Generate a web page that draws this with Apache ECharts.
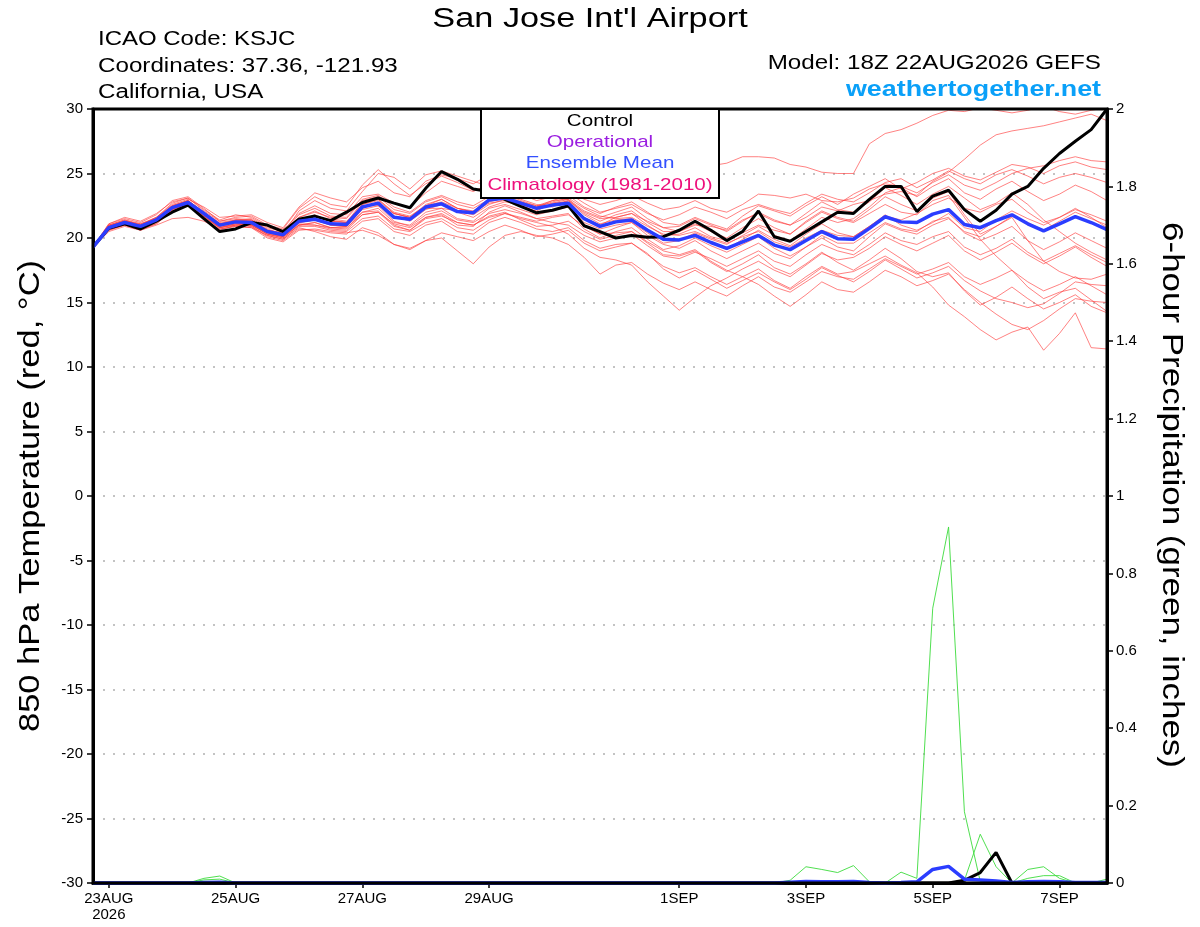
<!DOCTYPE html>
<html><head><meta charset="utf-8">
<script src="https://cdn.jsdelivr.net/npm/echarts@6.0.0/dist/echarts.min.js"></script>
<style>html,body{margin:0;padding:0;background:#fff}#c{width:1200px;height:927px}</style>
</head><body><div id="c"></div>
<script>
// ---- time categories (6-hourly, 18Z 22AUG2026 .. 18Z 7SEP2026) ----
const MON = ['JAN','FEB','MAR','APR','MAY','JUN','JUL','AUG','SEP','OCT','NOV','DEC'];
const startUTC = Date.UTC(2026, 7, 22, 18);
const times = Array.from({length: 65}, (_, i) => {
  const d = new Date(startUTC + i * 6 * 3600e3);
  return d.getUTCDate() + MON[d.getUTCMonth()] + ' ' + String(d.getUTCHours()).padStart(2, '0') + 'Z';
});
const tickTimes  = ['23AUG 00Z','25AUG 00Z','27AUG 00Z','29AUG 00Z','1SEP 00Z','3SEP 00Z','5SEP 00Z','7SEP 00Z'];
const tickLabels = ['23AUG\n2026','25AUG','27AUG','29AUG','1SEP','3SEP','5SEP','7SEP'];

// ---- 850 hPa temperature (°C) ----
const control = [19.3,20.75,21.1,20.7,21.3,22.0,22.55,21.5,20.5,20.7,21.2,21.0,20.5,21.45,21.7,21.35,22.0,
  22.75,23.1,22.7,22.35,23.85,25.15,24.55,23.8,23.6,23.0,22.45,21.95,22.15,22.5,20.95,20.5,
  20.0,20.2,20.05,20.1,20.6,21.3,20.6,19.8,20.5,22.1,20.1,19.75,20.5,21.25,22.0,21.9,
  23.0,24.0,24.0,22.05,23.25,23.7,22.2,21.3,22.15,23.4,24.0,25.4,26.55,27.5,28.4,30.0];
const ensMean = [19.3,20.8,21.2,20.9,21.4,22.35,22.75,21.9,21.0,21.25,21.2,20.5,20.25,21.3,21.45,21.1,21.05,
  22.4,22.7,21.6,21.45,22.4,22.65,22.05,21.95,22.95,23.1,22.7,22.3,22.55,22.7,21.5,20.9,
  21.25,21.4,20.6,19.9,19.85,20.2,19.65,19.2,19.7,20.2,19.45,19.1,19.8,20.5,19.95,19.9,
  20.75,21.65,21.25,21.2,21.85,22.2,21.05,20.8,21.35,21.8,21.1,20.55,21.1,21.65,21.2,20.65];

const m01 = [19.3,21.0,21.4,21.1,21.6,22.6,23.0,22.4,21.6,21.7,21.8,21.2,20.8,22.4,23.5,23.1,22.8,
  23.9,24.4,23.5,23.2,24.4,24.9,24.6,24.2,24.9,25.3,25.6,25.4,25.7,25.9,25.6,25.3,
  25.5,25.8,25.6,25.3,25.2,25.5,25.6,25.8,26.3,26.3,26.2,25.7,25.5,25.1,25.0,25.0,
  27.3,28.1,28.4,28.9,29.5,29.9,29.8,30.1,29.9,29.7,29.9,30.2,29.8,29.6,29.9,30.1];
const m02 = [19.3,20.9,21.3,21.0,21.5,22.5,22.9,22.0,21.1,21.4,21.5,20.8,20.5,21.6,22.0,21.6,21.5,
  22.9,23.2,22.2,21.9,22.8,23.2,22.6,22.3,23.0,23.3,23.0,22.6,22.4,22.9,22.0,21.5,
  21.6,21.9,21.3,20.8,20.5,21.0,20.9,20.6,21.4,21.9,21.3,21.0,21.6,22.4,22.1,22.6,
  22.9,23.4,23.6,23.3,24.4,25.1,26.1,27.2,28.0,28.3,28.5,28.7,29.0,29.3,29.6,29.1];
const m03 = [19.3,21.1,21.5,21.2,21.8,22.9,23.2,22.3,21.3,21.5,21.4,20.7,20.3,22.1,22.9,22.3,22.1,
  23.6,25.0,24.7,23.8,24.9,25.2,24.8,24.4,24.0,23.6,23.9,23.5,23.3,23.8,23.0,22.6,
  22.9,23.3,22.7,22.2,22.4,22.9,22.3,22.0,22.6,23.4,23.3,23.1,23.4,22.9,22.8,23.1,
  23.8,24.2,24.0,23.5,24.3,24.9,24.1,23.7,24.3,25.0,25.4,25.6,26.0,26.3,26.0,25.9];
const m04 = [19.3,20.9,21.3,21.0,21.6,22.7,23.1,22.2,21.4,21.8,21.6,20.9,20.6,21.9,22.5,21.9,21.8,
  23.2,23.4,22.7,22.4,23.5,24.4,24.0,23.6,24.2,24.0,23.4,22.9,23.2,23.5,22.7,22.0,
  22.3,22.6,21.9,21.4,21.8,22.4,22.0,21.5,22.2,22.6,22.2,21.9,22.7,23.4,23.0,22.8,
  23.5,24.3,24.6,23.9,24.5,25.2,24.6,24.2,24.9,25.3,24.8,24.2,24.7,25.0,24.7,24.3];
const m05 = [19.3,20.7,21.1,20.8,21.3,22.4,22.8,21.8,20.9,21.3,21.4,20.6,20.4,21.5,21.7,21.4,21.2,
  22.6,22.9,21.9,21.6,22.5,23.0,22.3,22.0,22.7,22.9,22.4,22.1,22.7,23.0,22.1,21.6,
  22.0,22.4,21.5,20.8,20.9,21.5,21.0,20.5,21.3,22.0,21.4,21.0,21.9,22.8,22.2,22.0,
  22.8,23.9,23.3,22.6,23.4,24.0,23.1,22.2,22.7,23.5,22.6,21.4,20.5,19.6,18.9,18.3];
const m06 = [19.3,20.8,21.2,20.9,21.5,22.5,22.9,21.9,21.0,21.2,21.1,20.4,20.1,21.2,21.4,21.0,20.9,
  22.3,22.8,21.7,21.3,22.2,22.6,22.0,21.6,22.4,22.8,22.6,22.0,22.2,22.4,21.0,20.3,
  20.8,21.2,20.4,19.6,19.8,20.4,19.9,19.5,20.2,20.9,20.2,19.8,20.7,21.6,21.2,21.5,
  22.4,23.5,23.9,23.2,24.0,24.6,23.5,23.0,23.8,24.4,23.6,22.9,23.4,24.1,23.6,22.9];
const m07 = [19.3,20.6,21.0,20.7,21.2,22.2,22.6,21.7,20.8,21.1,21.0,20.3,20.0,21.0,21.2,20.8,20.7,
  22.0,22.3,21.2,21.0,22.0,22.3,21.5,21.3,22.3,22.6,22.2,21.8,22.1,22.4,21.2,20.7,
  21.0,21.2,20.2,19.5,19.2,19.8,19.0,18.4,19.0,19.6,18.8,18.4,19.3,20.2,19.6,19.6,
  20.4,21.2,20.7,20.5,21.3,21.6,20.4,19.8,20.3,20.9,19.8,19.1,19.7,20.4,19.8,19.2];
const m08 = [19.3,20.9,21.2,20.9,21.4,22.3,22.6,21.9,21.1,21.3,21.3,20.6,20.3,21.6,22.1,21.5,21.3,
  22.5,22.5,21.9,21.6,22.3,22.3,22.1,21.8,22.6,23.0,22.8,22.4,22.8,23.1,22.3,21.7,
  21.5,21.6,20.9,20.3,20.2,20.5,20.0,19.6,20.1,20.5,19.7,19.3,20.0,20.6,20.2,20.1,
  20.9,21.8,21.0,20.6,21.2,21.9,20.8,20.5,21.4,22.1,21.5,21.0,21.6,22.2,21.8,21.3];
const m09 = [19.3,20.7,21.1,20.8,21.3,22.2,22.7,21.8,21.0,21.2,21.0,20.3,20.1,21.1,21.0,20.8,20.9,
  22.0,22.1,21.0,20.6,21.6,21.8,21.0,20.9,22.0,22.5,22.0,21.5,21.2,21.0,20.2,19.7,
  20.0,20.3,19.4,18.6,18.4,18.9,18.4,17.8,18.4,19.0,18.2,17.8,18.7,19.5,19.0,18.7,
  19.5,20.4,19.8,19.5,20.1,20.5,19.3,18.7,19.2,19.9,18.9,18.2,18.8,19.4,18.7,18.1];
const m10 = [19.3,20.8,21.1,20.8,21.3,22.3,22.8,21.9,20.9,21.1,20.9,20.2,19.9,20.9,20.9,20.6,20.5,
  21.5,21.7,20.7,20.5,21.2,21.5,20.8,20.6,21.4,21.9,21.5,21.2,20.9,20.3,19.2,18.5,
  18.3,17.9,16.6,15.5,14.4,15.4,16.3,16.9,17.6,18.2,17.5,17.0,17.9,18.8,18.3,18.5,
  19.2,20.1,19.5,19.0,19.6,20.2,19.0,18.3,18.9,19.6,18.7,18.0,18.6,19.3,18.5,17.8];
const m11 = [19.3,20.7,21.0,20.7,21.1,22.1,22.5,21.6,20.8,21.0,20.9,20.1,19.8,20.7,20.6,20.4,20.3,
  21.3,21.5,20.5,20.2,21.0,21.3,20.5,20.3,21.2,21.6,21.2,20.7,20.5,20.8,19.8,19.2,
  19.5,19.6,18.7,17.8,17.3,17.7,17.0,16.4,17.0,17.6,16.7,16.1,17.0,17.8,17.2,17.4,
  18.0,18.6,17.9,17.3,16.2,14.8,13.9,12.9,12.1,12.7,13.1,11.3,12.6,14.2,11.5,11.4];
const m12 = [19.3,20.9,21.3,21.0,21.4,22.4,22.7,21.8,20.8,21.0,21.0,20.3,20.0,21.0,21.2,20.8,20.8,
  21.8,22.0,21.1,20.8,21.6,21.9,21.2,21.0,21.7,22.0,21.4,20.9,21.0,21.3,20.5,19.9,
  20.2,20.5,19.6,18.7,18.6,19.0,18.1,17.4,18.0,18.7,17.7,17.2,18.0,18.9,18.1,17.5,
  18.3,19.2,18.4,17.4,17.0,17.3,15.9,14.8,15.4,16.2,15.3,14.5,15.0,15.6,14.7,14.2];
const m13 = [19.3,20.8,21.2,20.8,21.3,22.3,22.6,21.7,20.7,20.9,20.8,20.2,19.9,20.8,20.5,20.1,19.9,
  20.8,20.4,19.5,19.1,19.8,20.0,19.0,18.0,19.3,20.2,20.5,20.2,20.0,19.5,18.5,17.2,
  17.9,18.1,17.2,16.5,16.0,16.6,16.0,15.5,16.3,17.0,16.2,15.8,16.6,17.4,17.0,16.8,
  17.6,18.4,17.8,17.2,17.6,18.1,17.0,16.4,16.9,17.5,16.6,15.9,16.4,17.0,16.3,15.6];
const m14 = [19.3,20.6,21.0,20.6,21.1,22.1,22.5,21.5,20.6,21.0,21.0,20.4,20.1,21.0,21.0,20.7,20.6,
  21.8,22.0,20.9,20.6,21.5,21.7,21.2,21.0,21.6,21.9,21.6,21.3,21.6,21.8,20.9,20.3,
  20.4,20.5,19.7,19.0,18.7,19.1,18.2,17.5,17.0,16.4,15.5,14.7,15.6,16.6,16.0,15.8,
  16.6,17.5,17.0,16.3,16.7,17.2,16.0,15.0,14.1,13.3,12.9,13.6,14.5,15.3,15.1,15.0];
const m15 = [19.3,21.0,21.4,21.0,21.6,22.5,22.9,22.0,21.2,21.4,21.3,20.6,20.2,21.4,21.7,21.3,21.2,
  22.8,23.0,22.0,21.7,22.5,22.8,22.3,22.1,22.8,23.1,22.6,22.3,22.6,22.9,21.8,21.1,
  21.4,21.5,20.6,19.8,19.8,20.3,19.7,19.1,19.9,20.6,19.9,19.4,20.3,21.1,20.4,20.1,
  20.9,21.7,21.4,21.9,22.6,23.1,22.3,22.0,22.6,23.0,22.0,21.2,21.6,22.3,21.6,20.8];
const m16 = [19.3,21.0,21.3,21.1,21.5,22.4,22.8,21.8,20.9,21.4,21.4,20.6,20.4,21.8,22.3,21.7,21.6,
  23.0,23.3,22.4,22.0,22.9,23.3,22.8,22.5,23.2,23.4,22.9,22.5,22.7,22.8,21.6,21.0,
  21.6,21.9,21.0,20.2,20.3,20.8,20.1,19.8,20.4,21.0,20.6,20.3,21.2,22.0,21.5,21.2,
  21.9,22.6,22.0,21.8,22.9,23.3,21.6,19.9,18.6,17.5,16.2,15.3,15.8,16.1,15.2,14.3];
const m17 = [19.3,20.5,20.9,20.6,21.0,21.5,21.6,21.3,20.7,20.9,20.8,20.0,19.7,20.6,20.7,20.5,20.4,
  20.6,20.2,19.5,19.2,19.8,20.4,20.1,19.8,20.5,21.0,20.6,20.1,20.3,20.6,19.6,19.0,
  19.3,19.6,18.8,17.6,16.9,17.5,16.8,16.1,16.7,17.3,16.6,16.0,16.8,17.7,17.1,16.6,
  17.4,18.3,17.6,16.9,17.3,17.8,16.7,15.9,15.3,15.0,14.6,14.9,15.7,16.6,16.4,16.3];
const m18 = [19.3,21.1,21.6,21.3,21.9,22.8,23.1,22.1,21.3,21.6,21.7,21.0,20.7,22.3,23.2,22.6,22.4,
  24.1,25.3,24.2,23.3,24.2,24.8,24.3,23.7,23.8,23.2,22.6,22.4,22.9,23.3,22.4,21.9,
  22.4,22.8,22.0,21.2,21.0,21.6,21.1,20.7,21.7,22.5,22.1,21.7,22.5,23.2,22.6,23.4,
  24.0,24.6,23.8,24.3,25.0,25.4,24.8,24.5,25.1,25.7,25.5,25.0,25.6,25.9,25.5,25.3];
const m19 = [19.3,20.8,21.1,20.9,21.3,22.2,22.7,21.7,20.8,21.1,21.1,20.5,20.2,21.2,21.4,21.0,20.9,
  22.2,22.5,21.3,20.9,21.8,22.1,21.4,21.2,21.9,22.2,21.9,21.5,21.7,21.9,20.7,20.0,
  20.5,20.8,19.9,19.1,19.4,20.0,19.4,18.9,19.5,20.1,19.2,18.6,19.3,20.0,19.3,19.0,
  20.1,21.1,20.6,20.3,21.0,21.5,20.5,20.1,20.9,21.7,21.2,20.6,21.3,22.0,21.5,21.0];
const m20 = [19.3,20.9,21.3,21.0,21.5,22.4,22.9,22.0,21.1,21.3,21.2,20.5,20.2,21.3,21.8,21.3,21.2,
  22.6,23.0,21.9,21.6,22.6,23.0,22.3,22.0,22.9,23.3,22.8,22.5,22.9,23.0,21.9,21.3,
  21.8,22.1,21.2,20.5,20.5,21.1,20.5,20.0,20.8,21.5,20.8,20.3,21.3,22.1,21.6,21.3,
  22.2,23.2,22.6,22.1,23.1,23.6,21.8,20.3,20.9,21.6,19.8,18.2,17.4,16.9,16.8,17.2];
const members = [m01,m02,m03,m04,m05,m06,m07,m08,m09,m10,m11,m12,m13,m14,m15,m16,m17,m18,m19,m20];

// ---- 6-hour precipitation (inches) ----
const pControl = [0,0,0,0,0,0,0,0,0,0,0,0,0,
  0,0,0,0,0,0,0,0,0,0,0,0,0,
  0,0,0,0,0,0,0,0,0,0,0,0,0,
  0,0,0,0,0,0,0,0,0,0,0,0,0,
  0,0,0,0.007,0.027,0.079,0,0,0,0,0,0,0];
const pMean = [0,0,0,0,0,0,0,0.001,0.002,0,0,0,0,
  0,0,0,0,0,0,0,0,0,0,0,0,0,
  0,0,0,0,0,0,0,0,0,0,0,0,0,
  0,0,0,0,0,0.002,0.004,0.003,0.003,0.004,0.001,0,0.001,
  0.003,0.035,0.043,0.01,0.008,0.005,0.001,0.003,0.004,0.003,0.001,0.001,0.001];
const p01 = [0,0,0,0,0,0,0,0,0,0,0,0,0,
  0,0,0,0,0,0,0,0,0,0,0,0,0,
  0,0,0,0,0,0,0,0,0,0,0,0,0,
  0,0,0,0,0,0,0,0,0,0,0,0,0.028,
  0.012,0.71,0.92,0.184,0.004,0,0,0,0,0,0,0,0];
const p02 = [0,0,0,0,0,0,0,0.012,0.018,0,0,0,0,
  0,0,0,0,0,0,0,0,0,0,0,0,0,
  0,0,0,0,0,0,0,0,0,0,0,0,0,
  0,0,0,0,0,0.007,0.042,0.035,0.027,0.045,0.003,0,0,
  0,0,0,0,0,0,0,0,0,0,0,0,0];
const p03 = [0,0,0,0,0,0,0,0,0,0,0,0,0,
  0,0,0,0,0,0,0,0,0,0,0,0,0,
  0,0,0,0,0,0,0,0,0,0,0,0,0,
  0,0,0,0,0,0,0,0,0,0,0,0,0,
  0,0,0,0.007,0.126,0.042,0,0.035,0.042,0.012,0,0,0.01];
const p04 = [0,0,0,0,0,0,0,0.008,0.01,0,0,0,0,
  0,0,0,0,0,0,0,0,0,0,0,0,0,
  0,0,0,0,0,0,0,0,0,0,0,0,0,
  0,0,0,0,0,0,0,0,0,0,0,0,0,
  0,0,0,0,0,0,0,0.012,0.019,0.019,0,0,0];
const precipMembers = [p01,p02,p03,p04];

// ---- build chart ----
const FONT = '"Liberation Sans", Arial, Helvetica, sans-serif';
const series = [];
members.forEach((m, k) => series.push({
  name: 'member' + (k + 1), type: 'line', data: m, yAxisIndex: 0, symbol: 'none', silent: true, z: 2,
  lineStyle: {color: '#ff3b3b', width: 0.8, opacity: 0.8}
}));
precipMembers.forEach((p, k) => series.push({
  name: 'precip' + (k + 1), type: 'line', data: p, yAxisIndex: 1, symbol: 'none', silent: true, z: 3,
  lineStyle: {color: '#3ddc3d', width: 1, opacity: 0.9}
}));
series.push({name: 'Control', type: 'line', data: control, yAxisIndex: 0, symbol: 'none', z: 4,
  lineStyle: {color: '#000', width: 3}});
series.push({name: 'Ensemble Mean', type: 'line', data: ensMean, yAxisIndex: 0, symbol: 'none', z: 5,
  lineStyle: {color: '#2b3dff', width: 3.5}});
series.push({name: 'Control precip', type: 'line', data: pControl, yAxisIndex: 1, symbol: 'none', z: 4,
  lineStyle: {color: '#000', width: 3}});
series.push({name: 'Mean precip', type: 'line', data: pMean, yAxisIndex: 1, symbol: 'none', z: 5,
  lineStyle: {color: '#2b3dff', width: 3.5}});

const showTick = (idx, val) => tickTimes.indexOf(val) >= 0;

// stretched Helvetica-like text (the reference font is horizontally wide)
const txt = (text, x, y, size, align, color, sx, extra) => Object.assign({
  type: 'text', x: x, y: y, scaleX: sx,
  style: {text: text, font: size + 'px ' + FONT, fill: color, align: align, verticalAlign: 'middle'}
}, extra || {});
const rtxt = (text, x, y, size, rot, sx) => ({
  type: 'text', x: x, y: y, rotation: rot, scaleX: sx,
  style: {text: text, font: size + 'px ' + FONT, fill: '#000', align: 'center', verticalAlign: 'middle'}
});

const chart = echarts.init(document.getElementById('c'), null, {renderer: 'canvas'});
chart.setOption({
  animation: false,
  backgroundColor: '#fff',
  grid: {left: 93, right: 93, top: 109, bottom: 44, show: true, borderColor: '#000', borderWidth: 3, z: 10},
  xAxis: {
    type: 'category', data: times, boundaryGap: false,
    axisLine: {show: true, onZero: false, lineStyle: {color: '#000', width: 3}},
    axisTick: {show: true, interval: showTick, length: 5, inside: false, lineStyle: {color: '#000', width: 1.5}},
    axisLabel: {interval: showTick, formatter: v => tickLabels[tickTimes.indexOf(v)] || '',
      color: '#000', fontSize: 15, fontFamily: FONT, margin: 8, lineHeight: 16},
    splitLine: {show: false}
  },
  yAxis: [{
    type: 'value', min: -30, max: 30, interval: 5, position: 'left',
    axisLine: {show: true, onZero: false, lineStyle: {color: '#000', width: 3}},
    axisTick: {show: true, length: 6, lineStyle: {color: '#000', width: 1.5}},
    axisLabel: {color: '#000', fontSize: 15, fontFamily: FONT, margin: 10},
    splitLine: {show: true, lineStyle: {color: '#b0b0b0', type: [2, 8], width: 1.5}}
  }, {
    type: 'value', min: 0, max: 2, interval: 0.2, position: 'right',
    axisLine: {show: true, onZero: false, lineStyle: {color: '#000', width: 3}},
    axisTick: {show: true, length: 6, lineStyle: {color: '#000', width: 1.5}},
    axisLabel: {color: '#000', fontSize: 15, fontFamily: FONT, margin: 9, formatter: v => String(+v.toFixed(1))},
    splitLine: {show: false}
  }],
  series: series,
  graphic: [
    txt("San Jose Int'l Airport", 590, 20, 27, 'center', '#000', 1.27),
    txt('ICAO Code: KSJC', 98, 40, 19.5, 'left', '#000', 1.23),
    txt('Coordinates: 37.36, -121.93', 98, 67, 19.5, 'left', '#000', 1.24),
    txt('California, USA', 98, 93, 19.5, 'left', '#000', 1.24),
    txt('Model: 18Z 22AUG2026 GEFS', 1101, 64, 19.5, 'right', '#000', 1.24),
    txt('weathertogether.net', 1101, 90, 'bold 22', 'right', '#0aa0f8', 1.22),
    rtxt('850 hPa Temperature (red, °C)', 31, 496, 30, Math.PI / 2, 1.15),
    rtxt('6-hour Precipitation (green, inches)', 1171, 495, 30, -Math.PI / 2, 1.165),
    {type: 'rect', z: 100, shape: {x: 481, y: 109, width: 238, height: 89}, style: {fill: '#fff', stroke: '#000', lineWidth: 2}},
    txt('Control', 600, 121, 17, 'center', '#000', 1.21, {z: 101}),
    txt('Operational', 600, 142, 17, 'center', '#9a1de0', 1.21, {z: 101}),
    txt('Ensemble Mean', 600, 163, 17, 'center', '#3350ff', 1.21, {z: 101}),
    txt('Climatology (1981-2010)', 600, 185, 17, 'center', '#ee107c', 1.21, {z: 101})
  ]
});
</script></body></html>
